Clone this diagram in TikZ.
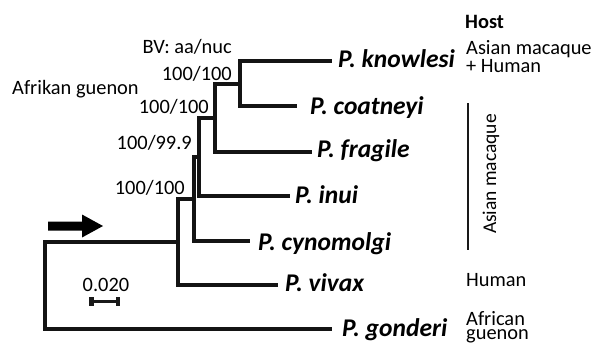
\documentclass[tikz,border=0pt]{standalone}
\usepackage{fontspec}
\setmainfont{Carlito}
\begin{document}
\begin{tikzpicture}[x=1pt,y=-1pt,
  branch/.style={line width=4.3pt,draw=black!92,line join=miter},
  species/.style={font=\fontsize{25.5}{25.5}\selectfont\bfseries\itshape,inner sep=0pt,anchor=base west},
  lbl/.style={font=\fontsize{20.4}{20.4}\selectfont,inner sep=0pt},
  hostlbl/.style={font=\fontsize{20.4}{14.2}\selectfont,inner sep=0pt,align=left,anchor=base west},
]
\useasboundingbox[fill=white] (0,0) rectangle (596,343);

% internal nodes of the tree
\coordinate (R) at (45,285);
\coordinate (E) at (178,242);
\coordinate (D) at (194,199);
\coordinate (C) at (199,157);
\coordinate (B) at (215,118);
\coordinate (A) at (240,84);

% tips of the terminal branches
\coordinate (knowlesi-tip)  at (332,61);
\coordinate (coatneyi-tip)  at (297,106);
\coordinate (fragile-tip)   at (312,152);
\coordinate (inui-tip)      at (290,196);
\coordinate (cynomolgi-tip) at (250,241);
\coordinate (vivax-tip)     at (278,285);
\coordinate (gonderi-tip)   at (332,329);

% species names
\node[species] (knowlesi)  at (338,67)  {P. knowlesi};
\node[species] (coatneyi)  at (310,114) {P. coatneyi};
\node[species] (fragile)   at (317,157) {P. fragile};
\node[species] (inui)      at (295,203) {P. inui};
\node[species] (cynomolgi) at (258,250) {P. cynomolgi};
\node[species] (vivax)     at (285,291) {P. vivax};
\node[species] (gonderi)   at (342,336) {P. gonderi};

% branches
\draw[branch] (R) |- (E);
\draw[branch] (R) |- (gonderi-tip);
\draw[branch] (E) |- (D);
\draw[branch] (E) |- (vivax-tip);
\draw[branch] (D) |- (C);
\draw[branch] (D) |- (cynomolgi-tip);
\draw[branch] (C) |- (B);
\draw[branch] (C) |- (inui-tip);
\draw[branch] (B) |- (A);
\draw[branch] (B) |- (fragile-tip);
\draw[branch] (A) |- (knowlesi-tip);
\draw[branch] (A) |- (coatneyi-tip);

% bootstrap values
\node[lbl,anchor=base east] (bv)  at (232,53)  {BV: aa/nuc};
\node[lbl,anchor=base east] (bsA) at (232,80)  {100/100};
\node[lbl,anchor=base east] (bsB) at (209,113) {100/100};
\node[lbl,anchor=base east] (bsC) at (192,149) {100/99.9};
\node[lbl,anchor=base east] (bsD) at (185,194) {100/100};
\node[lbl,anchor=base west] (afr) at (12,94)   {Afrikan guenon};

% arrow marking the root branch
\fill[black] (48,221.5) -- (82,221.5) -- (82,214.5) -- (103,226)
  -- (82,237.5) -- (82,230.5) -- (48,230.5) -- cycle;

% scale bar
\node[lbl,anchor=base] (scale) at (106,291) {0.020};
\draw[line width=3pt,black!90] (90,301) -- (118,301);
\fill[black!90] (89.3,296.5) rectangle (94,305.8);
\fill[black!90] (115.5,296.5) rectangle (120.2,305.8);

% host column
\node[lbl,anchor=base west,font=\fontsize{20.4}{20.4}\selectfont\bfseries] (host) at (465,28) {Host};
\node[hostlbl] (h-kn) at (466,72) {Asian macaque\\+ Human};
\draw[line width=2.4pt,black!90] (468,103) -- (468,250);
\node[lbl,rotate=90,font=\fontsize{19.5}{19.5}\selectfont] (h-am) at (491,174) {Asian macaque};
\node[lbl,anchor=base west] (h-vi) at (466,286) {Human};
\node[hostlbl] (h-go) at (466,339.5) {African\\guenon};
\end{tikzpicture}
\end{document}
